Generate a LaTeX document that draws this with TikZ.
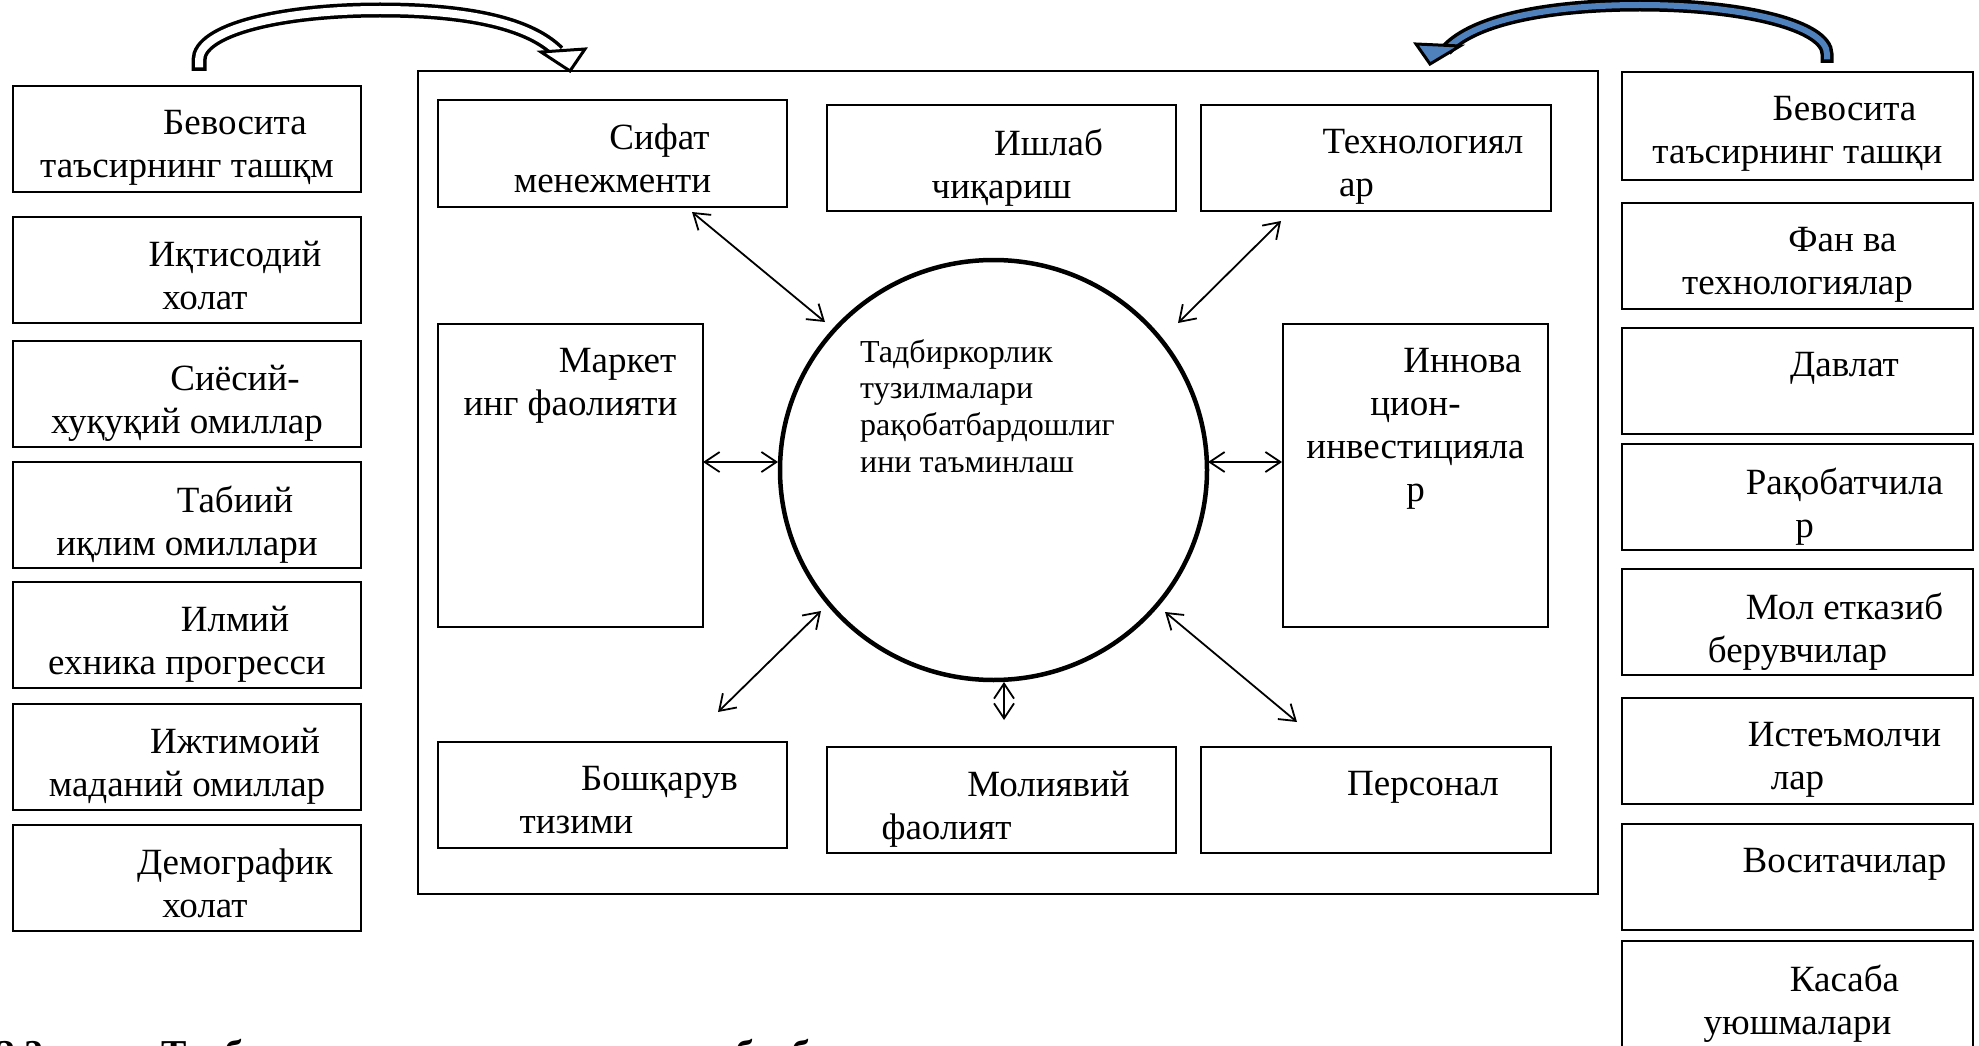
\documentclass[tikz,border=0pt]{standalone}
\usepackage{fontspec}
\setmainfont{Liberation Serif}
\usetikzlibrary{arrows.meta,calc,shapes.geometric}
\definecolor{arrowblue}{HTML}{4F81BD}
\newcommand\mkbox[5]{%
  \node[#2] (#1) at (#3,#4) {};
  \node[txt] (#1t) at ($(#1.north)+(0,24)$) {#5};}
\begin{document}
\begin{tikzpicture}[x=1pt,y=-1pt,
  frm/.style={draw,line width=2.2pt,inner sep=0pt,outer sep=0pt,anchor=north west,fill=white},
  lbox/.style={frm,minimum width=348pt,minimum height=106pt},
  rbox/.style={frm,minimum width=351pt,minimum height=106pt},
  ibox/.style={frm,minimum width=349pt,minimum height=106pt},
  tbox/.style={frm,minimum width=265pt,minimum height=303pt},
  txt/.style={anchor=north,align=center,inner sep=0pt,font=\fontsize{37}{43}\selectfont},
  bi/.style={{Straight Barb[length=15pt,width=20pt]}-{Straight Barb[length=15pt,width=20pt]},line width=1.8pt},
]
\useasboundingbox (0,0) rectangle (1979,1046);
\clip (0,0) rectangle (1979,1046);

% caption (cut off by the lower edge)
\node[anchor=base west,inner sep=0pt,font=\bfseries\fontsize{38}{44}\selectfont] (cap) at (-4,1066)
  {2.2-расм. Тадбиркорлик тузилмалари рақобатбардошлигига таъсир этувчи омиллар тизими};

% outer frame
\node[frm,fill=none,minimum width=1180pt,minimum height=823pt] (frame) at (418,71) {};

% left column
\mkbox{l1}{lbox}{13}{86}{\hspace*{96pt}Бевосита\\таъсирнинг ташқм}
\mkbox{l2}{lbox}{13}{217}{\hspace*{96pt}Иқтисодий\\\hspace*{36pt}холат}
\mkbox{l3}{lbox}{13}{341}{\hspace*{96pt}Сиёсий-\\хуқуқий омиллар}
\mkbox{l4}{lbox}{13}{462}{\hspace*{96pt}Табиий\\иқлим омиллари}
\mkbox{l5}{lbox}{13}{582}{\hspace*{96pt}Илмий\\ехника прогресси}
\mkbox{l6}{lbox}{13}{704}{\hspace*{96pt}Ижтимоий\\маданий омиллар}
\mkbox{l7}{lbox}{13}{825}{\hspace*{96pt}Демографик\\\hspace*{36pt}холат}

% right column
\mkbox{r1}{rbox,minimum height=108pt}{1622}{72}{\hspace*{94pt}Бевосита\\таъсирнинг ташқи}
\mkbox{r2}{rbox}{1622}{203}{\hspace*{90pt}Фан ва\\технологиялар}
\mkbox{r3}{rbox}{1622}{328}{\hspace*{94pt}Давлат\\\mbox{}}
\mkbox{r4}{rbox}{1622}{444}{\hspace*{94pt}Рақобатчила\\\hspace*{14pt}р}
\mkbox{r5}{rbox}{1622}{569}{\hspace*{94pt}Мол етказиб\\берувчилар}
\mkbox{r6}{rbox}{1622}{698}{\hspace*{94pt}Истеъмолчи\\лар}
\mkbox{r7}{rbox}{1622}{824}{\hspace*{94pt}Воситачилар\\\mbox{}}
\mkbox{r8}{rbox,minimum height=130pt}{1622}{941}{\hspace*{94pt}Касаба\\уюшмалари}

% inner boxes
\mkbox{q1}{ibox,minimum height=107pt}{438}{100}{\hspace*{94pt}Сифат\\менежменти}
\mkbox{q2}{ibox}{827}{105}{\hspace*{94pt}Ишлаб\\чиқариш}
\mkbox{q3}{ibox,minimum width=350pt}{1201}{105}{\hspace*{94pt}Технологиял\\\hspace*{-39pt}ар}
\mkbox{q4}{tbox}{438}{324}{\hspace*{94pt}Маркет\\инг фаолияти}
\mkbox{q5}{tbox}{1283}{324}{\hspace*{94pt}Иннова\\цион-\\инвестицияла\\р}
\mkbox{q6}{ibox}{438}{742}{\hspace*{94pt}Бошқарув\\\hspace*{-72pt}тизими}
\mkbox{q7}{ibox}{827}{747}{\hspace*{94pt}Молиявий\\\hspace*{-110pt}фаолият}
\mkbox{q8}{ibox,minimum width=350pt}{1201}{747}{\hspace*{94pt}Персонал\\\mbox{}}

% central circle
\node[ellipse,draw,line width=4.5pt,inner sep=0pt,minimum width=427pt,minimum height=420pt] (circ) at (993.5,470) {};
\node[anchor=north west,align=left,inner sep=0pt,font=\fontsize{32}{36.7}\selectfont] (ctext) at (860,339)
  {Тадбиркорлик\\тузилмалари\\рақобатбардошлиг\\ини таъминлаш};

% connectors
\draw[bi] ($(q1.south)+(79.5,5)$) -- ($(circ.center)+(-168.5,-148)$);
\draw[bi] ($(q3.south)+(-95,10)$) -- ($(circ.center)+(184.5,-147)$);
\draw[bi] ($(q4.north east)+(0,138)$) -- ($(circ.center)+(-215.5,-8)$);
\draw[bi] ($(circ.center)+(214.5,-8)$) -- ($(q5.north west)+(-1,138)$);
\draw[bi] ($(q6.north)+(105.5,-30)$) -- ($(circ.center)+(-172.5,141)$);
\draw[bi] ($(q7.north)+(2.5,-27)$) -- ($(circ.center)+(10.5,212)$);
\draw[bi] ($(q8.north)+(-79,-25)$) -- ($(circ.center)+(171.5,142)$);

% top curved arrows
\coordinate (lt0) at (199,71);
\coordinate (lt1) at (199,67.5);
\coordinate (lhd) at (570,71);
\def\lcurve{(199,60) .. controls (199,30) and (280,10) .. (380,10) .. controls (470,10) and (530,24) .. (558,52)}
\draw[line width=15pt] (lt0) -- \lcurve;
\draw[line width=8pt,white] (lt1) -- \lcurve;
\filldraw[fill=white,draw=black,line width=3pt,line join=miter] (541,52) -- (585,49) -- (lhd) -- cycle;

\coordinate (rt0) at (1827,63);
\coordinate (rt1) at (1827,59.5);
\coordinate (rhd) at (1430,64);
\def\rcurve{(1827,54) .. controls (1827,26) and (1745,5) .. (1640,5) .. controls (1555,5) and (1475,18) .. (1446,50)}
\draw[line width=13pt] (rt0) -- \rcurve;
\draw[line width=6pt,arrowblue] (rt1) -- \rcurve;
\filldraw[fill=arrowblue,draw=black,line width=3pt,line join=miter] (1460,46) -- (1416,44) -- (rhd) -- cycle;
\end{tikzpicture}
\end{document}
